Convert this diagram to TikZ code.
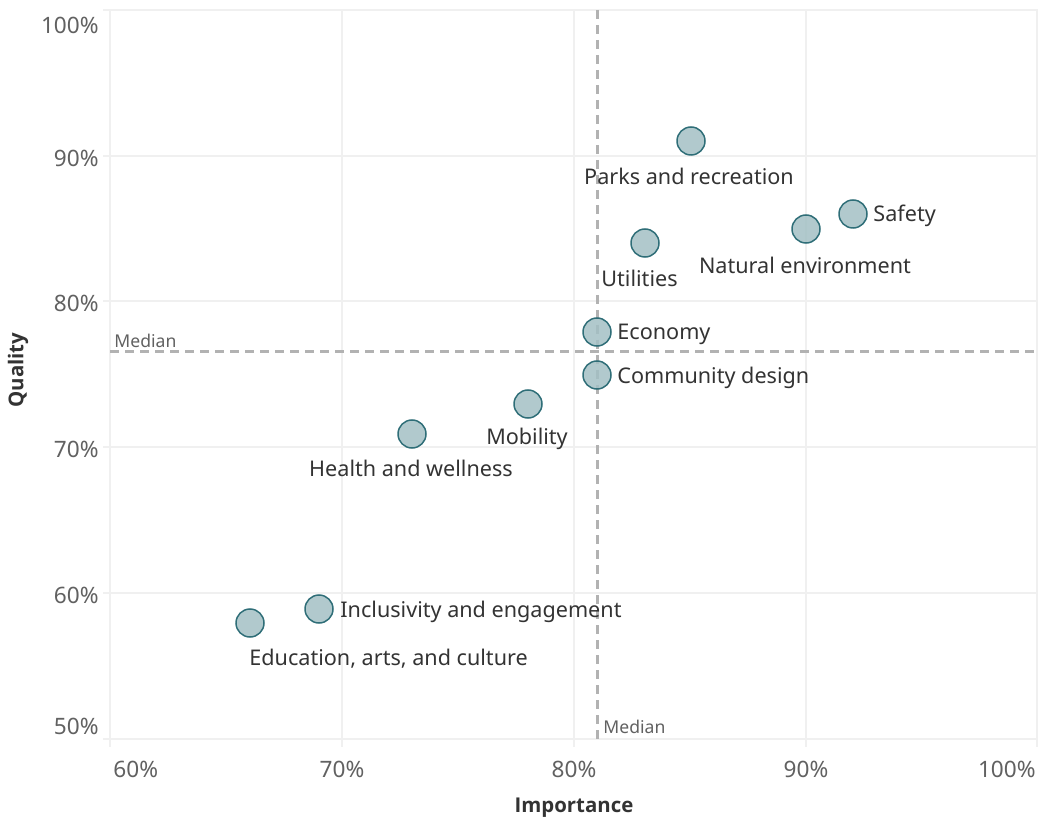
\documentclass[tikz,border=0pt]{standalone}
\usepackage{fontspec}
\setmainfont{Noto Sans}
\newfontfamily\titlefont{Open Sans}
\definecolor{dotfill}{HTML}{A3C0C4}
\definecolor{dotdraw}{HTML}{2F6E78}
\begin{document}
\begin{tikzpicture}[x=0.5pt,y=-0.5pt,
  grid/.style={draw=black!6,line width=1.2pt},
  medline/.style={draw=black!30,line width=1.5pt,dash pattern=on 4.5pt off 3pt},
  dot/.style={circle,minimum size=14pt,inner sep=0pt,fill=dotfill,fill opacity=0.85,draw=dotdraw,line width=0.75pt},
  lbl/.style={font=\fontsize{10.8}{13}\selectfont,text=black!80,inner sep=0pt},
  tick/.style={font=\fontsize{11.3}{13}\selectfont,text=black!62,inner sep=0pt},
  medlbl/.style={font=\fontsize{8.8}{10}\selectfont,text=black!62,inner sep=0pt},
  axtitle/.style={font=\titlefont\bfseries\fontsize{10.2}{12}\selectfont,text=black!80,inner sep=0pt}]
\useasboundingbox (0,0) rectangle (1038,823);
% grid
\foreach \y in {10,156,301,447,593,739} \draw[grid] (103,\y) -- (1038,\y);
\foreach \x in {110,342,574,806,1037} \draw[grid] (\x,10) -- (\x,747);
% medians
\draw[medline] (597,10) -- (597,739);
\draw[medline] (110,352) -- (1038,352);
\node[medlbl,anchor=west] (mh) at (114,341) {Median};
\node[medlbl,anchor=west] (mv) at (603,727) {Median};
% y ticks
\node[tick,anchor=east] (y100) at (99,25) {100\%};
\node[tick,anchor=east] (y90) at (99,158) {90\%};
\node[tick,anchor=east] (y80) at (99,303) {80\%};
\node[tick,anchor=east] (y70) at (99,449) {70\%};
\node[tick,anchor=east] (y60) at (99,595) {60\%};
\node[tick,anchor=east] (y50) at (99,726) {50\%};
% x ticks
\node[tick,anchor=west] (x60) at (113,769) {60\%};
\node[tick] (x70) at (342,769) {70\%};
\node[tick] (x80) at (574,769) {80\%};
\node[tick] (x90) at (806,769) {90\%};
\node[tick,anchor=east] (x100) at (1036,769) {100\%};
% axis titles
\node[axtitle,rotate=90] (qt) at (18,370) {Quality};
\node[axtitle] (it) at (574,808) {Importance};
% points
\node[dot] (p1) at (691,141) {};
\node[dot] (p2) at (853,214) {};
\node[dot] (p3) at (806,229) {};
\node[dot] (p4) at (645,243) {};
\node[dot] (p5) at (597,332) {};
\node[dot] (p6) at (597,375) {};
\node[dot] (p7) at (528,404) {};
\node[dot] (p8) at (412,434) {};
\node[dot] (p9) at (319,609) {};
\node[dot] (p10) at (250,623) {};
% labels
\node[lbl] (l1) at (689,176) {Parks and recreation};
\node[lbl,anchor=west] (l2) at (873,216) {Safety};
\node[lbl] (l3) at (805,265) {Natural environment};
\node[lbl,anchor=west] (l4) at (601,278) {Utilities};
\node[lbl,anchor=west] (l5) at (617,334) {Economy};
\node[lbl,anchor=west] (l6) at (617,378) {Community design};
\node[lbl] (l7) at (527,439) {Mobility};
\node[lbl] (l8) at (411,468) {Health and wellness};
\node[lbl,anchor=west] (l9) at (340,612) {Inclusivity and engagement};
\node[lbl,anchor=west] (l10) at (249,659) {Education, arts, and culture};
\end{tikzpicture}
\end{document}
